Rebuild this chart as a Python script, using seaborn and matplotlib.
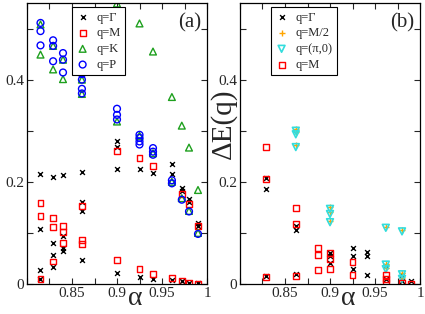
import numpy as np
import pandas as pd
import seaborn as sns
import matplotlib
matplotlib.use("Agg")
import matplotlib.pyplot as plt
from matplotlib.ticker import FixedLocator, FuncFormatter

# panel (a): alpha -> gap values for each momentum
gamma_a = {0.815: [0.215, 0.107, 0.027, 0.009], 0.829: [0.210, 0.081, 0.057, 0.034],
           0.84: [0.213, 0.093, 0.070, 0.065], 0.861: [0.220, 0.161, 0.143, 0.046],
           0.9: [0.279, 0.269, 0.225, 0.022], 0.925: [0.225, 0.014], 0.94: [0.218, 0.009],
           0.961: [0.234, 0.216, 0.008], 0.972: [0.188, 0.182, 0.005],
           0.98: [0.166, 0.161, 0.002], 0.99: [0.119, 0.114, 0.001]}
m_a = {0.815: [0.159, 0.133, 0.010], 0.829: [0.129, 0.111, 0.044],
       0.84: [0.114, 0.101, 0.080], 0.861: [0.152, 0.086, 0.078],
       0.9: [0.261, 0.047], 0.925: [0.247, 0.030], 0.94: [0.231, 0.019],
       0.961: [0.011], 0.972: [0.177, 0.005], 0.98: [0.156, 0.003], 0.99: [0.114, 0.001]}
k_a = {0.815: [0.508, 0.449], 0.829: [0.466, 0.420], 0.84: [0.439, 0.401],
       0.861: [0.400, 0.372], 0.9: [0.549, 0.318], 0.925: [0.510, 0.290],
       0.94: [0.455, 0.256], 0.961: [0.366, 0.200], 0.972: [0.310, 0.168],
       0.98: [0.267, 0.143], 0.99: [0.184, 0.100]}
p_a = {0.815: [0.511, 0.495, 0.467], 0.829: [0.477, 0.466, 0.436],
       0.84: [0.452, 0.439, 0.414], 0.861: [0.411, 0.400, 0.382, 0.373],
       0.9: [0.343, 0.331, 0.322], 0.925: [0.292, 0.286, 0.279, 0.273],
       0.94: [0.266, 0.259, 0.253], 0.961: [0.203, 0.197], 0.972: [0.165],
       0.98: [0.142], 0.99: [0.098]}

# panel (b)
gamma_b = {0.829: [0.208, 0.185, 0.015], 0.862: [0.114, 0.105, 0.020],
           0.9: [0.061, 0.054, 0.041], 0.925: [0.071, 0.054, 0.030],
           0.941: [0.062, 0.055, 0.018], 0.962: [0.036, 0.010],
           0.98: [0.018, 0.005], 0.99: [0.006]}
m2_b = {0.862: [0.303, 0.297, 0.272], 0.9: [0.150, 0.140, 0.124],
        0.962: [0.112, 0.040, 0.031], 0.98: [0.105, 0.021, 0.012]}
pi0_b = {0.862: [0.300, 0.293, 0.268], 0.9: [0.147, 0.137, 0.121],
         0.962: [0.110, 0.038, 0.029], 0.98: [0.103, 0.019, 0.010]}
m_b = {0.829: [0.268, 0.206, 0.014], 0.862: [0.148, 0.118, 0.016],
       0.887: [0.071, 0.056, 0.028], 0.9: [0.061, 0.049, 0.030],
       0.925: [0.043, 0.018], 0.962: [0.018, 0.010, 0.004],
       0.98: [0.002], 0.99: [0.001]}


def to_df(d):
    rows = [(a, v) for a, vals in d.items() for v in vals]
    return pd.DataFrame(rows, columns=["alpha", "gap"])


sns.set_style("ticks")
plt.rcParams["font.family"] = ["Liberation Serif", "DejaVu Serif"]
plt.rcParams["axes.linewidth"] = 0.9

fig = plt.figure(figsize=(4.25, 3.14), dpi=100)
ax_a = fig.add_axes([27 / 425, 30 / 314, 180 / 425, 281 / 314])
ax_b = fig.add_axes([240 / 425, 30 / 314, 180 / 425, 281 / 314])

green = "#1ea01e"


def draw(ax, d, label, marker, color, size, hollow=True, lw=1.0):
    df = to_df(d)
    if hollow:
        sns.scatterplot(data=df, x="alpha", y="gap", ax=ax, marker=marker, s=size,
                        facecolors="none", edgecolor=color, color=color,
                        linewidth=lw, label=label)
    else:
        sns.scatterplot(data=df, x="alpha", y="gap", ax=ax, marker=marker, s=size,
                        color=color, linewidth=lw, label=label)


draw(ax_a, gamma_a, "q=Γ", "x", "black", 12, hollow=False)
draw(ax_a, m_a, "q=M", "s", "red", 18)
draw(ax_a, k_a, "q=K", "^", green, 24)
draw(ax_a, p_a, "q=P", "o", "blue", 24)

draw(ax_b, gamma_b, "q=Γ", "x", "black", 12, hollow=False)
draw(ax_b, m2_b, "q=M/2", "+", "orange", 22, hollow=False)
draw(ax_b, pi0_b, "q=(π,0)", "v", "#33dddd", 24, lw=1.2)
draw(ax_b, m_b, "q=M", "s", "red", 18)

fmt = FuncFormatter(lambda v, p: "%g" % round(v, 3))
for ax, tag, lx in [(ax_a, "(a)", 0.25), (ax_b, "(b)", 0.172)]:
    ax.set_xlim(0.8, 1.0)
    ax.set_ylim(0, 0.55)
    ax.xaxis.set_major_locator(FixedLocator([0.85, 0.9, 0.95, 1.0]))
    ax.xaxis.set_minor_locator(FixedLocator([0.8, 0.825, 0.875, 0.925, 0.975]))
    ax.yaxis.set_major_locator(FixedLocator([0, 0.2, 0.4]))
    ax.yaxis.set_minor_locator(FixedLocator([0.1, 0.3, 0.5]))
    ax.xaxis.set_major_formatter(fmt)
    ax.yaxis.set_major_formatter(fmt)
    ax.tick_params(which="both", direction="in", top=True, right=True,
                   length=4, width=0.8, labelsize=11, pad=2)
    ax.set_xlabel("α", fontsize=20, va="baseline")
    ax.xaxis.set_label_coords(0.6, -0.075)
    ax.set_ylabel("")
    ax.text(0.97, 0.965, tag, transform=ax.transAxes, ha="right", va="top", fontsize=15)
    for s in ax.spines.values():
        s.set_color("black")
    leg = ax.legend(loc="upper left", bbox_to_anchor=(lx, 0.985), fontsize=9,
                    frameon=True, fancybox=False, edgecolor="black", framealpha=1,
                    handlelength=1.0, handletextpad=0.6, labelspacing=0.3,
                    borderpad=0.35, borderaxespad=0, scatterpoints=1)
    leg.get_frame().set_linewidth(0.8)

ax_b.set_ylabel("ΔE(q)", fontsize=21)
ax_b.yaxis.set_label_coords(-0.02, 0.57)

fig.savefig("out.png", dpi=100)
